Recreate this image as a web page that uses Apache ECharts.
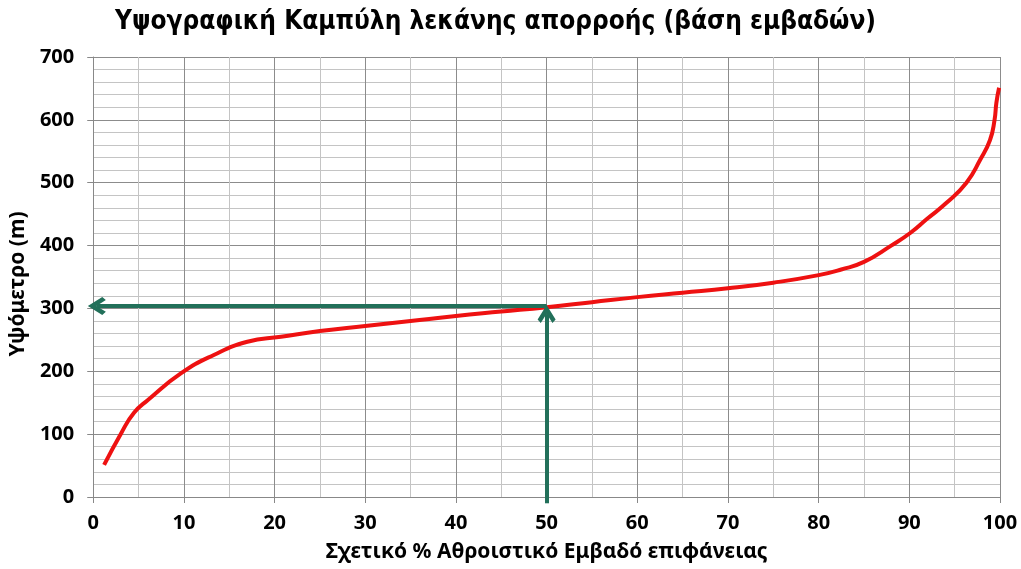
<!DOCTYPE html>
<html>
<head>
<meta charset="utf-8">
<script src="https://cdn.jsdelivr.net/npm/echarts@6/dist/echarts.min.js"></script>
<style>
  html, body { margin: 0; padding: 0; background: #fff; }
  #hypsoChart { width: 1021px; height: 569px; }
</style>
</head>
<body>
<div id="hypsoChart"></div>
<script>
// σχετικό % αθροιστικό εμβαδό (x) και υψόμετρο σε m (y)
const areaPct = [1.2, 3.1, 4.5, 6.0, 9.7, 13.3, 17.0, 20.7, 25, 30, 35, 40, 45, 50, 55, 60, 65, 70, 75, 80, 82.5, 85, 88, 90.1, 92, 94.1, 96.3, 97.8, 98.9, 99.4, 99.6, 99.9];
const elevation = [51, 102, 134, 154, 197, 226, 247, 255, 264, 272, 280, 288, 295, 302, 310, 318, 325, 332, 341, 353, 362, 374, 400, 420, 443, 468, 500, 536, 568, 600, 627, 651];
// βέλη ανάγνωσης του μέσου υψομέτρου (το σύμβολο κεντράρεται στο άκρο)
const medianArea = 50;
const medianElev = 304;
const arrowStartY = -10;
const arrowHeadY = 291;
const arrowHeadX = 0.4;

const chevron = 'path://M0,10 L10,0 L20,10 L16.5,12.5 L10,6 L3.5,12.5 Z';
const labelFont = '"Noto Sans", "DejaVu Sans", sans-serif';

let option = {
  animation: false,
  title: {
    text: 'Υψογραφική Καμπύλη λεκάνης απορροής (βάση εμβαδών)',
    left: 110,
    top: 4,
    textStyle: {
      fontFamily: '"DejaVu Sans Condensed", "DejaVu Sans", sans-serif',
      fontWeight: 'bold',
      fontSize: 26,
      color: '#000'
    }
  },
  grid: {left: 92, right: 21, top: 57, bottom: 72},
  xAxis: {
    type: 'value',
    min: 0,
    max: 100,
    interval: 10,
    name: 'Σχετικό % Αθροιστικό Εμβαδό επιφάνειας',
    nameLocation: 'middle',
    nameGap: 45,
    nameTextStyle: {fontFamily: labelFont, fontWeight: 'bold', fontSize: 21, color: '#000'},
    axisLine: {lineStyle: {color: '#888', width: 1}},
    axisTick: {show: true, length: 6, lineStyle: {color: '#888'}},
    axisLabel: {fontFamily: labelFont, fontWeight: 'bold', fontSize: 20, color: '#000', margin: 16},
    splitLine: {show: true, lineStyle: {color: '#8c8c8c', width: 1}},
    minorTick: {show: false, splitNumber: 2},
    minorSplitLine: {show: true, lineStyle: {color: '#c4c4c4', width: 1}}
  },
  yAxis: {
    type: 'value',
    min: 0,
    max: 700,
    interval: 100,
    name: 'Υψόμετρο (m)',
    nameLocation: 'middle',
    nameGap: 64,
    nameTextStyle: {fontFamily: labelFont, fontWeight: 'bold', fontSize: 21, color: '#000', padding: [0, 14, 0, 0]},
    axisLine: {show: true, lineStyle: {color: '#888', width: 1}},
    axisTick: {show: true, length: 6, lineStyle: {color: '#888'}},
    axisLabel: {fontFamily: labelFont, fontWeight: 'bold', fontSize: 20, color: '#000', margin: 19},
    splitLine: {show: true, lineStyle: {color: '#8c8c8c', width: 1}},
    minorTick: {show: false, splitNumber: 5},
    minorSplitLine: {show: true, lineStyle: {color: '#c4c4c4', width: 1}}
  },
  series: [
    {
      name: 'Υψογραφική',
      type: 'line',
      data: areaPct.map((x, i) => [x, elevation[i]]),
      smooth: 0.5,
      showSymbol: false,
      symbol: 'none',
      lineStyle: {color: '#ee1111', width: 4},
      z: 3
    },
    {
      name: 'Βέλη',
      type: 'lines',
      coordinateSystem: 'cartesian2d',
      clip: false,
      symbol: ['none', chevron],
      symbolSize: 18,
      lineStyle: {color: '#22705a', width: 4, opacity: 1, curveness: 0},
      itemStyle: {color: '#22705a'},
      data: [
        {coords: [[medianArea, arrowStartY], [medianArea, arrowHeadY]]},
        {coords: [[medianArea, medianElev], [arrowHeadX, medianElev]]}
      ],
      z: 4
    }
  ]
};

let hypsoChart = echarts.init(document.getElementById('hypsoChart'));
hypsoChart.setOption(option);
</script>
</body>
</html>
